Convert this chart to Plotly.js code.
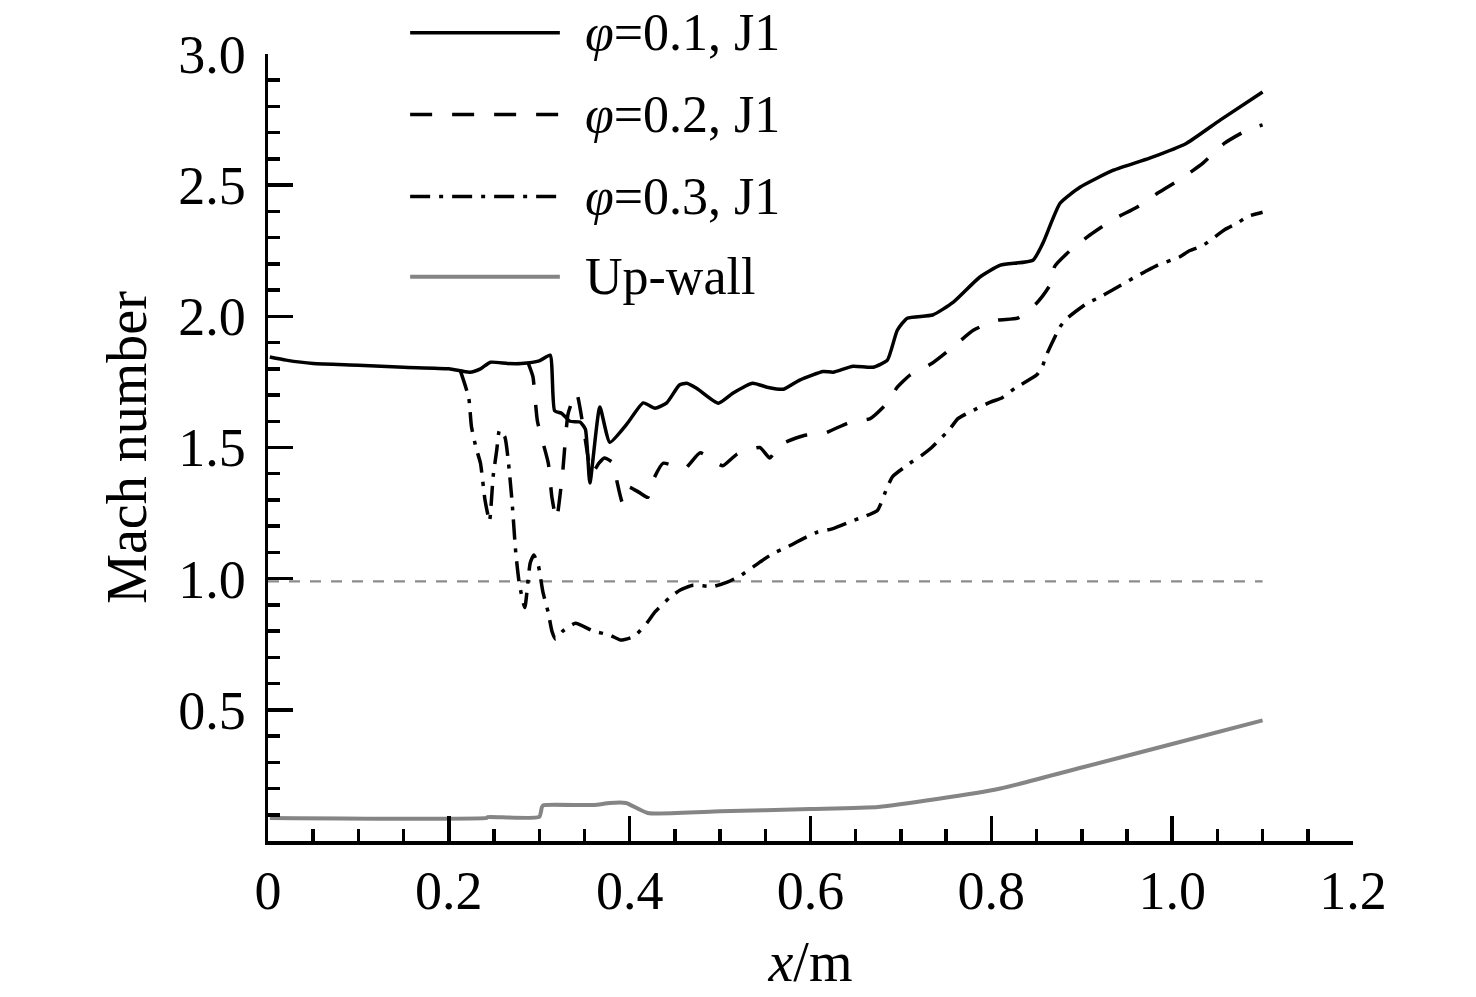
<!DOCTYPE html>
<html>
<head>
<meta charset="utf-8">
<script src="https://cdn.plot.ly/plotly-3.0.1.min.js"></script>
<style>
  html, body { margin: 0; padding: 0; background: #fff; }
  #chart { width: 1476px; height: 997px; }
</style>
</head>
<body>
<div id="chart"></div>
<script>
// -----------------------------
// Data
// -----------------------------
const phi1X = [0.002, 0.02, 0.05, 0.10, 0.15, 0.20, 0.223, 0.235, 0.246, 0.265, 0.28, 0.30, 0.312, 0.317, 0.325, 0.334, 0.345, 0.351, 0.356, 0.367, 0.378, 0.397, 0.415, 0.428, 0.441, 0.455, 0.463, 0.474, 0.498, 0.514, 0.536, 0.552, 0.57, 0.588, 0.614, 0.625, 0.647, 0.669, 0.685, 0.696, 0.707, 0.735, 0.758, 0.787, 0.81, 0.846, 0.857, 0.876, 0.898, 0.935, 0.975, 1.016, 1.053, 1.1];
const phi1Y = [1.845, 1.833, 1.82, 1.814, 1.806, 1.80, 1.787, 1.80, 1.825, 1.82, 1.82, 1.83, 1.852, 1.64, 1.63, 1.60, 1.597, 1.57, 1.365, 1.654, 1.52, 1.59, 1.67, 1.65, 1.67, 1.738, 1.745, 1.726, 1.669, 1.707, 1.745, 1.73, 1.722, 1.757, 1.79, 1.787, 1.81, 1.806, 1.833, 1.947, 1.993, 2.005, 2.054, 2.149, 2.195, 2.214, 2.279, 2.431, 2.492, 2.557, 2.603, 2.66, 2.748, 2.855];

const phi2X = [0.288, 0.293, 0.298, 0.31, 0.314, 0.319, 0.326, 0.332, 0.341, 0.35, 0.358, 0.366, 0.372, 0.382, 0.386, 0.392, 0.398, 0.41, 0.42, 0.426, 0.437, 0.461, 0.478, 0.497, 0.503, 0.519, 0.544, 0.555, 0.566, 0.592, 0.616, 0.644, 0.666, 0.685, 0.696, 0.71, 0.734, 0.76, 0.78, 0.806, 0.829, 0.85, 0.865, 0.87, 0.887, 0.909, 0.935, 0.961, 0.984, 1.011, 1.034, 1.058, 1.083, 1.1];
const phi2Y = [1.82, 1.77, 1.60, 1.44, 1.31, 1.225, 1.41, 1.63, 1.71, 1.55, 1.40, 1.44, 1.46, 1.44, 1.37, 1.29, 1.35, 1.33, 1.31, 1.376, 1.44, 1.42, 1.48, 1.44, 1.43, 1.475, 1.50, 1.46, 1.51, 1.545, 1.555, 1.597, 1.61, 1.67, 1.73, 1.776, 1.82, 1.89, 1.947, 1.985, 1.993, 2.05, 2.12, 2.19, 2.25, 2.31, 2.37, 2.416, 2.47, 2.527, 2.584, 2.66, 2.71, 2.73];

const phi3X = [0.213, 0.222, 0.225, 0.230, 0.235, 0.24, 0.245, 0.249, 0.253, 0.256, 0.262, 0.266, 0.27, 0.274, 0.278, 0.284, 0.29, 0.294, 0.299, 0.304, 0.31, 0.314, 0.318, 0.326, 0.34, 0.36, 0.378, 0.39, 0.405, 0.42, 0.428, 0.445, 0.456, 0.47, 0.492, 0.508, 0.522, 0.544, 0.559, 0.574, 0.596, 0.608, 0.624, 0.646, 0.658, 0.674, 0.685, 0.691, 0.71, 0.723, 0.734, 0.754, 0.763, 0.779, 0.799, 0.812, 0.826, 0.85, 0.857, 0.86, 0.876, 0.884, 0.906, 0.918, 0.934, 0.957, 0.97, 0.984, 1.008, 1.019, 1.034, 1.058, 1.072, 1.083, 1.1];
const phi3Y = [1.79, 1.69, 1.58, 1.50, 1.44, 1.30, 1.22, 1.39, 1.49, 1.566, 1.54, 1.44, 1.29, 1.10, 0.98, 0.89, 1.06, 1.09, 1.05, 0.95, 0.87, 0.80, 0.77, 0.80, 0.83, 0.80, 0.785, 0.766, 0.78, 0.835, 0.873, 0.93, 0.957, 0.975, 0.97, 0.987, 1.01, 1.063, 1.097, 1.12, 1.16, 1.178, 1.19, 1.22, 1.235, 1.26, 1.35, 1.39, 1.44, 1.47, 1.50, 1.57, 1.61, 1.64, 1.673, 1.69, 1.726, 1.776, 1.814, 1.845, 1.96, 1.993, 2.05, 2.07, 2.10, 2.146, 2.17, 2.195, 2.226, 2.25, 2.27, 2.33, 2.355, 2.38, 2.397];

const wallX = [0.002, 0.242, 0.243, 0.30, 0.303, 0.305, 0.36, 0.378, 0.396, 0.42, 0.50, 0.60, 0.675, 0.74, 0.81, 0.90, 1.0, 1.1];
const wallY = [0.088, 0.088, 0.091, 0.092, 0.13, 0.137, 0.137, 0.145, 0.145, 0.107, 0.113, 0.122, 0.13, 0.16, 0.20, 0.28, 0.37, 0.46];

const sonicX = [0, 1.1];
const sonicY = [0.99, 0.99];

const xTickVals = [0, 0.2, 0.4, 0.6, 0.8, 1.0, 1.2];
const xTickText = ["0", "0.2", "0.4", "0.6", "0.8", "1.0", "1.2"];
const yTickVals = [0.5, 1.0, 1.5, 2.0, 2.5, 3.0];
const yTickText = ["0.5", "1.0", "1.5", "2.0", "2.5", "3.0"];

const legendNames = ["<i>φ</i>=0.1, J1", "<i>φ</i>=0.2, J1", "<i>φ</i>=0.3, J1", "Up-wall"];

// -----------------------------
// Styles
// -----------------------------
const FONT = "Liberation Serif, Times New Roman, serif";
const styles = [
  { color: "#000", width: 3.5, dash: "solid" },
  { color: "#000", width: 3.5, dash: "22px,20px" },
  { color: "#000", width: 3.5, dash: "20px,9px,4px,9px" },
  { color: "#858585", width: 4, dash: "solid" }
];

const traces = [
  { x: phi1X, y: phi1Y },
  { x: phi2X, y: phi2Y },
  { x: phi3X, y: phi3Y },
  { x: wallX, y: wallY }
].map((d, i) => ({
  type: "scatter",
  mode: "lines",
  x: d.x,
  y: d.y,
  name: legendNames[i],
  line: { ...styles[i], shape: "spline", smoothing: 0.5 },
  showlegend: false,
  hoverinfo: "skip"
}));

traces.unshift({
  type: "scatter",
  mode: "lines",
  x: sonicX,
  y: sonicY,
  line: { color: "#8c8c8c", width: 2.2, dash: "11px,10px" },
  showlegend: false,
  hoverinfo: "skip"
});

// -----------------------------
// Hand-drawn legend (long sample lines like the figure)
// -----------------------------
const legX0 = 0.131, legX1 = 0.269, legTextX = 0.290;
const legY = [1.027, 0.923, 0.819, 0.717];

const shapes = legendNames.map((_, i) => ({
  type: "line",
  xref: "paper", yref: "paper",
  x0: legX0, x1: legX1, y0: legY[i], y1: legY[i],
  line: styles[i]
}));

const annotations = legendNames.map((name, i) => ({
  xref: "paper", yref: "paper",
  x: legTextX, y: legY[i],
  xanchor: "left", yanchor: "middle",
  text: name,
  showarrow: false,
  font: { family: FONT, size: 52, color: "#000" }
}));

const axisCommon = {
  showline: true,
  linecolor: "#000",
  linewidth: 3.5,
  ticks: "inside",
  ticklen: 25,
  tickwidth: 3.5,
  tickcolor: "#000",
  showgrid: false,
  zeroline: false,
  tickfont: { family: FONT, size: 54, color: "#000" },
  fixedrange: true
};

const layout = {
  width: 1476,
  height: 997,
  paper_bgcolor: "#fff",
  plot_bgcolor: "#fff",
  margin: { l: 268, r: 123, t: 54, b: 156 },
  showlegend: false,
  xaxis: {
    ...axisCommon,
    range: [0, 1.2],
    tickmode: "array",
    tickvals: xTickVals,
    ticktext: xTickText,
    ticklabelstandoff: 0,
    minor: { tickmode: "linear", tick0: 0, dtick: 0.05, ticks: "inside", ticklen: 12, tickwidth: 3.5, tickcolor: "#000" },
    title: { text: "<i>x</i>/m", font: { family: FONT, size: 56, color: "#000" }, standoff: 22 }
  },
  yaxis: {
    ...axisCommon,
    range: [0, 3],
    tickmode: "array",
    tickvals: yTickVals,
    ticktext: yTickText,
    ticklabelstandoff: 8,
    minor: { tickmode: "linear", tick0: 0, dtick: 0.1, ticks: "inside", ticklen: 12, tickwidth: 3.5, tickcolor: "#000" },
    title: { text: "Mach number", font: { family: FONT, size: 56, color: "#000" }, standoff: 14 }
  },
  shapes: shapes,
  annotations: annotations
};

Plotly.newPlot("chart", traces, layout, { displayModeBar: false, staticPlot: true });
</script>
</body>
</html>
